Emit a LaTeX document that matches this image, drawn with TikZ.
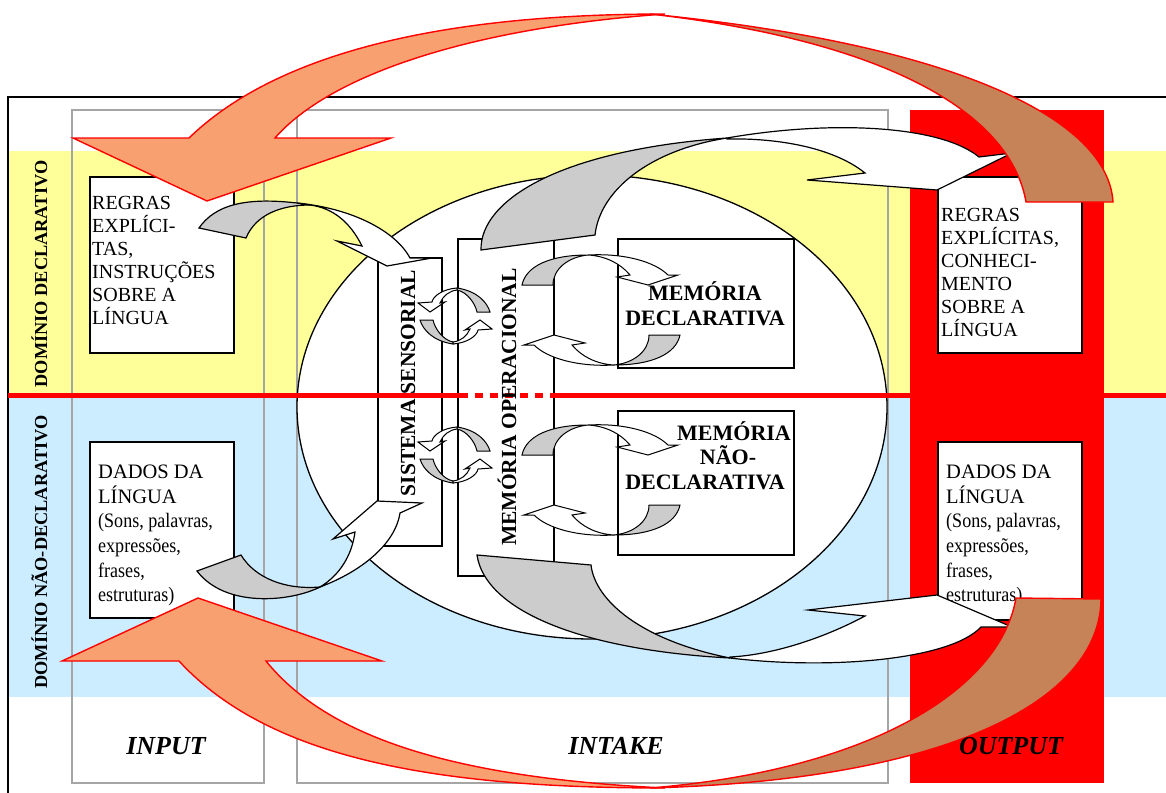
\documentclass[tikz,border=0pt]{standalone}
\usepackage{fontspec}
\setmainfont{Liberation Serif}
\newfontfamily\condserif{Liberation Serif}[FakeStretch=0.88]
\definecolor{bandyellow}{RGB}{255,255,153}
\definecolor{bandblue}{RGB}{204,236,255}
\definecolor{framegray}{RGB}{165,165,165}
\definecolor{ribbonorange}{RGB}{248,160,112}
\definecolor{ribbonbrown}{RGB}{198,131,88}
\definecolor{ribbongray}{RGB}{204,204,204}
\tikzset{
  plainbox/.style={draw=black,line width=1.5pt,fill=white,inner sep=0pt,anchor=north west},
  colframe/.style={draw=framegray,line width=1.4pt},
  bodytext/.style={anchor=north west,inner sep=0pt,align=left,font=\fontsize{20}{23}\selectfont},
  datatext/.style={anchor=north west,inner sep=0pt,align=left,font=\fontsize{20.5}{24.6}\selectfont},
  boldlabel/.style={anchor=base,inner sep=0pt,font=\fontsize{22}{24}\selectfont\bfseries},
  vertlabel/.style={anchor=base,inner sep=0pt,rotate=90,font=\fontsize{21.5}{24}\selectfont\bfseries},
  domainlabel/.style={anchor=base,inner sep=0pt,rotate=90,font=\fontsize{18.3}{22}\selectfont\bfseries},
  stagelabel/.style={anchor=base,inner sep=0pt,font=\fontsize{26}{30}\selectfont\bfseries\itshape},
  ribbonshade/.style={draw=black,line width=1.2pt,fill=ribbongray,line join=miter},
  ribbonface/.style={draw=black,line width=1.2pt,fill=white,line join=miter},
  bigfront/.style={draw=red,line width=1.4pt,fill=ribbonorange},
  bigback/.style={draw=red,line width=1.4pt,fill=ribbonbrown},
  medring/.pic={
    \filldraw[ribbonshade,line width=1pt] (-79,-25) .. controls (-75,-44) and (-51,-55) .. (-13,-55)
      .. controls (-33,-53) and (-48,-41) .. (-48,-25) -- cycle;
    \filldraw[ribbonface,line width=1pt] (-13,-55) .. controls (24,-57) and (54,-48) .. (67,-35)
      -- (77,-35) -- (47,-25) -- (16,-33) -- (29,-35)
      .. controls (19,-47) and (4,-54) .. (-13,-55) -- cycle;
  },
  smallring/.pic={
    \filldraw[ribbonshade,line width=1pt] (2,-28) .. controls (22,-25) and (32,-14) .. (35,-4)
      -- (22,-4) .. controls (20,-13) and (12,-24) .. (2,-26) -- cycle;
    \filldraw[ribbonface,line width=1pt] (2,-28) .. controls (-12,-27) and (-22,-20) .. (-23,-14)
      -- (-37,-13) -- (-25,-4) -- (-10,-14) -- (-15,-13)
      .. controls (-12,-20) and (-6,-25) .. (2,-26) -- cycle;
  },
}
\begin{document}
\begin{tikzpicture}[x=1pt,y=-1pt]
\useasboundingbox (0,0) rectangle (1166,792);
\clip (0,0) rectangle (1166,792);
\fill[white] (0,0) rectangle (1166,792);

% domain bands
\fill[bandyellow] (8,151) rectangle (1166,394);
\fill[bandblue] (8,394) rectangle (1166,697);

% outer frame
\draw[line width=1.5pt] (8,97) rectangle (1185,810);

% stage columns
\draw[colframe] (72,110) rectangle (264,783);
\draw[colframe] (297,110) rectangle (888,783);
\fill[red] (910,110) rectangle (1104,783);

% memory field
\draw[line width=1.3pt,fill=white] (592,407) ellipse [x radius=295, y radius=232];

% boxes
\node[plainbox,minimum width=144pt,minimum height=176pt] (regrasL) at (89,176) {};
\node[plainbox,minimum width=144pt,minimum height=176pt] (dadosL) at (89,441) {};
\node[plainbox,minimum width=144pt,minimum height=176pt] (regrasR) at (937,176) {};
\node[plainbox,minimum width=144pt,minimum height=178pt] (dadosR) at (937,441) {};
\node[plainbox,minimum width=64pt,minimum height=288pt] (sensorial) at (377,257) {};
\node[plainbox,minimum width=96pt,minimum height=337pt] (operacional) at (457,238) {};
\node[plainbox,minimum width=176pt,minimum height=129pt] (memdecl) at (617,238) {};
\node[plainbox,minimum width=176pt,minimum height=144pt] (memnd) at (617,410) {};

% domain divider
\draw[red,line width=5pt] (8,395) -- (460,395);
\draw[red,line width=5pt,dash pattern=on 8pt off 7pt] (460,395) -- (557,395);
\draw[red,line width=5pt] (557,395) -- (1166,395);

% box texts
\node[bodytext] (regrasLtxt) at (92,196.5) {REGRAS\\EXPLÍCI-\\TAS,\\INSTRUÇÕES\\SOBRE A\\LÍNGUA};
\node[bodytext] (regrasRtxt) at (941,208.5) {REGRAS\\EXPLÍCITAS,\\CONHECI-\\MENTO\\SOBRE A\\LÍNGUA};
\node[datatext] (dadosLtxt) at (98,465) {DADOS DA\\LÍNGUA\\{\condserif (Sons, palavras,}\\{\condserif expressões,}\\{\condserif frases,}\\{\condserif estruturas)}};
\node[datatext] (dadosRtxt) at (946,465) {DADOS DA\\LÍNGUA\\{\condserif (Sons, palavras,}\\{\condserif expressões,}\\{\condserif frases,}\\{\condserif estruturas)}};

\node[boldlabel] (md1) at (705,300) {MEMÓRIA};
\node[boldlabel] (md2) at (705,325) {DECLARATIVA};
\node[boldlabel] (mn1) at (734,440) {MEMÓRIA};
\node[boldlabel] (mn2) at (728,464) {NÃO-};
\node[boldlabel] (mn3) at (705,489) {DECLARATIVA};

\node[vertlabel] (senstxt) at (415,383) {SISTEMA SENSORIAL};
\node[vertlabel] (opertxt) at (516,407) {MEMÓRIA OPERACIONAL};

\node[domainlabel] (domdecl) at (47,274) {DOMÍNIO DECLARATIVO};
\node[domainlabel] (domnd) at (47,552) {DOMÍNIO NÃO-DECLARATIVO};

% exchange rings between stores
\pic at (455,316) {smallring};
\pic[rotate=180] at (455,316) {smallring};
\pic at (455,455) {smallring};
\pic[rotate=180] at (455,455) {smallring};
\pic at (601,310) {medring};
\pic[rotate=180] at (601,310) {medring};
\pic at (601,480) {medring};
\pic[rotate=180] at (601,480) {medring};

% input rules -> sensory system
\filldraw[ribbonshade] (199,228) .. controls (215,205) and (245,197) .. (297,203)
  -- (310,205) .. controls (282,205) and (256,214) .. (246,238) -- cycle;
\filldraw[ribbonface] (297,203) .. controls (350,208) and (395,230) .. (410,258)
  -- (432,258) -- (387,266) -- (337,241) -- (362,246)
  .. controls (350,222) and (333,208) .. (310,205) -- cycle;

% input data -> sensory system
\filldraw[ribbonshade] (197,571) -- (241,555) .. controls (255,578) and (285,590) .. (320,587)
  .. controls (290,602) and (225,608) .. (197,571) -- cycle;
\filldraw[ribbonface] (320,587) .. controls (360,572) and (395,545) .. (400,513)
  -- (422,503) -- (377,501) -- (333,539) -- (355,532)
  .. controls (352,555) and (340,575) .. (320,587) -- cycle;

% working memory -> output rules
\filldraw[ribbonshade] (481,250) .. controls (480,200) and (560,150) .. (727,138)
  .. controls (650,150) and (600,190) .. (595,235) -- cycle;
\filldraw[ribbonface] (727,138) .. controls (830,120) and (940,125) .. (979,157)
  -- (1012,153) -- (937,190) -- (807,180) -- (865,173)
  .. controls (830,145) and (770,138) .. (727,139) -- cycle;

% working memory -> output data
\filldraw[ribbonshade] (477,555) .. controls (485,610) and (580,650) .. (730,658)
  .. controls (640,640) and (595,600) .. (591,565) -- cycle;
\filldraw[ribbonface] (730,658) .. controls (830,670) and (950,660) .. (981,627)
  -- (1012,627) -- (937,595) -- (808,610) -- (865,616)
  .. controls (820,640) and (770,655) .. (730,657) -- cycle;

% feedback from output to input (upper)
\filldraw[bigfront] (207,201) -- (391,138) -- (275,138)
  .. controls (330,75) and (470,28) .. (665,14)
  .. controls (450,14) and (280,50) .. (189,138) -- (73,138) -- cycle;
\filldraw[bigback] (1113,202) .. controls (1108,120) and (960,45) .. (650,14)
  .. controls (880,40) and (1010,110) .. (1026,202) -- cycle;

% feedback from output to input (lower)
\filldraw[bigfront] (198,598) -- (382,661) -- (266,661)
  .. controls (330,740) and (460,778) .. (665,788)
  .. controls (440,788) and (270,760) .. (179,661) -- (62,661) -- cycle;
\filldraw[bigback] (1101,599) .. controls (1100,700) and (950,780) .. (650,788)
  .. controls (870,770) and (1000,690) .. (1016,598) -- cycle;

% stage names
\node[stagelabel] (inputlbl) at (166,754) {INPUT};
\node[stagelabel] (intakelbl) at (616,754) {INTAKE};
\node[stagelabel] (outputlbl) at (1011,754) {OUTPUT};
\end{tikzpicture}
\end{document}
